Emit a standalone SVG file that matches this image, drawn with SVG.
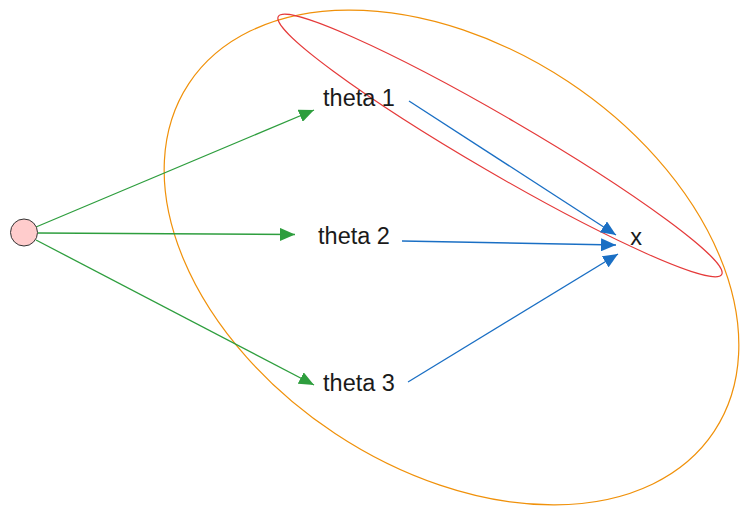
<svg xmlns="http://www.w3.org/2000/svg" width="748" height="514" viewBox="0 0 748 514">
<style>
.lbl{font-family:"Liberation Sans",Arial,sans-serif;font-size:23.5px;fill:#1a1a1a;text-anchor:middle}
.g{stroke:#2e9e3e;stroke-width:1.3;fill:none}
.b{stroke:#1a6fc4;stroke-width:1.3;fill:none}
</style>
<defs>
<marker id="ag" markerUnits="userSpaceOnUse" markerWidth="16" markerHeight="13" refX="15" refY="6.5" orient="auto"><path d="M0,0 L15,6.5 L0,13 Z" fill="#2e9e3e"/></marker>
<marker id="ab" markerUnits="userSpaceOnUse" markerWidth="16" markerHeight="13" refX="15" refY="6.5" orient="auto"><path d="M0,0 L15,6.5 L0,13 Z" fill="#1a6fc4"/></marker>
</defs>
<rect width="748" height="514" fill="#fff"/>
<g id="groups" fill="none">
<ellipse cx="451.5" cy="257.5" rx="315" ry="211" transform="rotate(33.5 451.5 257.5)" stroke="#f0910a" stroke-width="1.2"/>
<ellipse cx="500" cy="145.5" rx="256.5" ry="27.8" transform="rotate(30.2 500 145.5)" stroke="#e53a3a" stroke-width="1.2"/>
</g>
<g id="connectors">
<line class="g" x1="36" y1="227" x2="314" y2="110" marker-end="url(#ag)"/>
<line class="g" x1="38" y1="233" x2="295" y2="234.5" marker-end="url(#ag)"/>
<line class="g" x1="36" y1="240" x2="314" y2="385" marker-end="url(#ag)"/>
<line class="b" x1="409" y1="101" x2="616" y2="235" marker-end="url(#ab)"/>
<line class="b" x1="402" y1="241" x2="616" y2="245" marker-end="url(#ab)"/>
<line class="b" x1="408" y1="382" x2="618" y2="254" marker-end="url(#ab)"/>
</g>
<g id="source"><circle cx="24" cy="232.5" r="13.5" fill="#ffcccc" stroke="#333" stroke-width="1"/></g>
<g id="theta1"><text class="lbl" x="359" y="106">theta 1</text></g>
<g id="theta2"><text class="lbl" x="354" y="244">theta 2</text></g>
<g id="theta3"><text class="lbl" x="359" y="391">theta 3</text></g>
<g id="x"><text class="lbl" x="636" y="245">x</text></g>
</svg>
